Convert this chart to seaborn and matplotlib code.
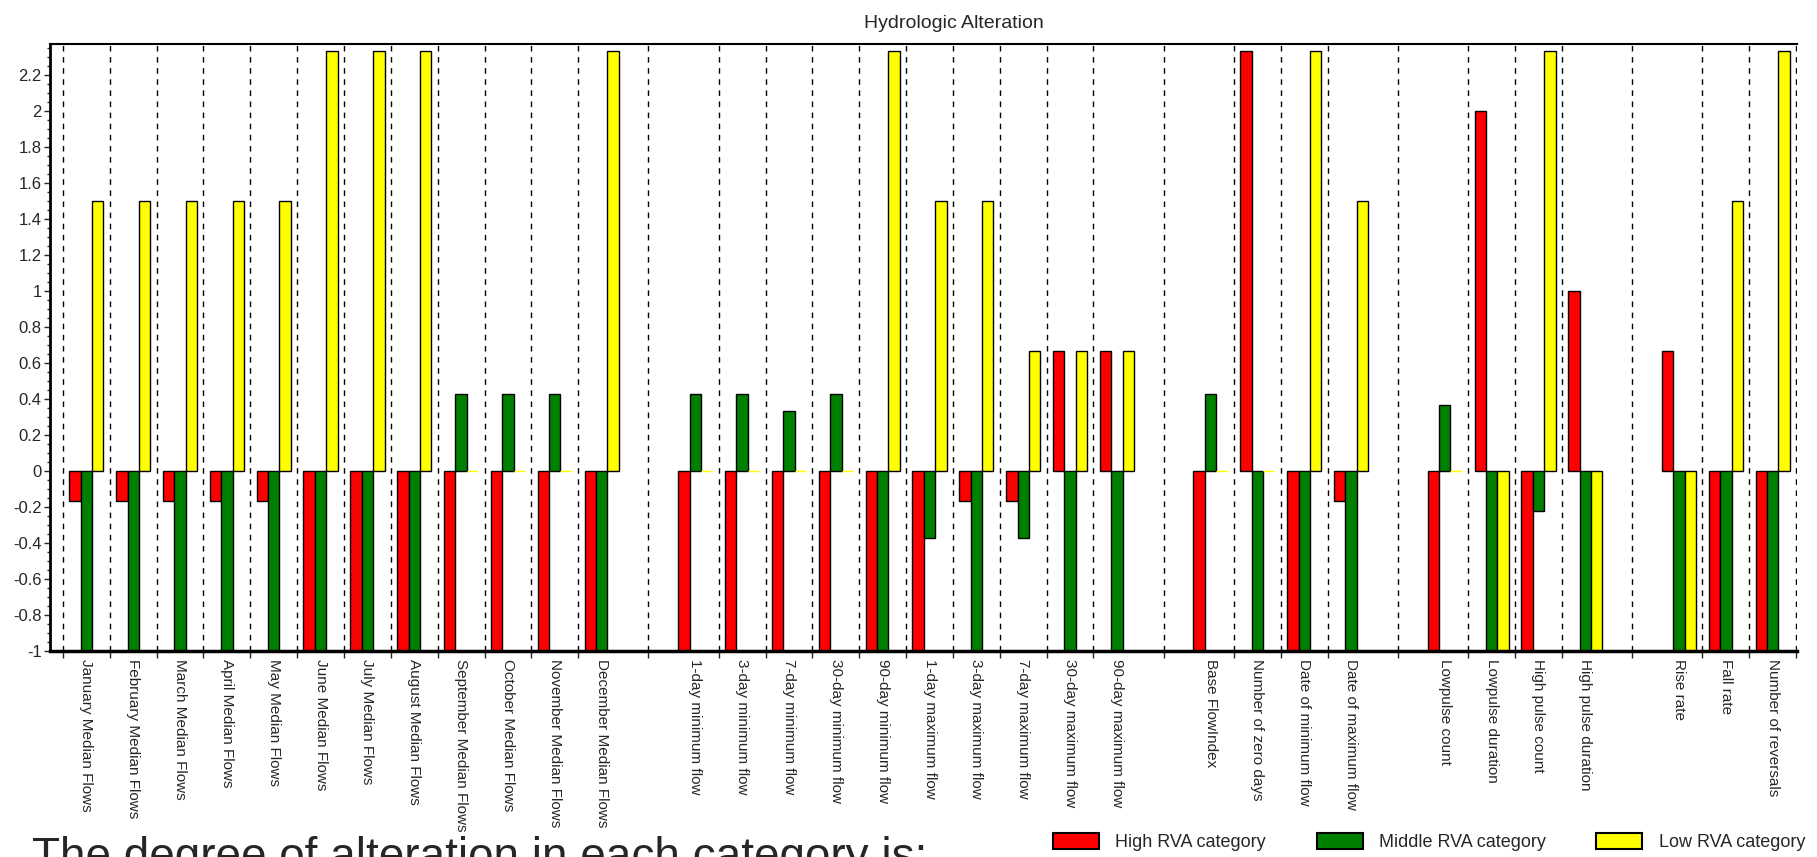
import numpy as np
import pandas as pd
import matplotlib
matplotlib.use("Agg")
import matplotlib.pyplot as plt
import seaborn as sns
from matplotlib.patches import Patch
from matplotlib.ticker import AutoMinorLocator, FixedLocator, FuncFormatter

# IHA indicators, in the order they appear (groups are separated by a blank slot)
categories = [
    "January Median Flows", "February Median Flows", "March Median Flows",
    "April Median Flows", "May Median Flows", "June Median Flows",
    "July Median Flows", "August Median Flows", "September Median Flows",
    "October Median Flows", "November Median Flows", "December Median Flows",
    "1-day minimum flow", "3-day minimum flow", "7-day minimum flow",
    "30-day minimum flow", "90-day minimum flow", "1-day maximum flow",
    "3-day maximum flow", "7-day maximum flow", "30-day maximum flow",
    "90-day maximum flow",
    "Base FlowIndex", "Number of zero days", "Date of minimum flow",
    "Date of maximum flow",
    "Lowpulse count", "Lowpulse duration", "High pulse count",
    "High pulse duration",
    "Rise rate", "Fall rate", "Number of reversals",
]
group_sizes = [12, 10, 4, 4, 3]

high = [-0.167, -0.167, -0.167, -0.167, -0.167, -1, -1, -1, -1, -1, -1, -1,
        -1, -1, -1, -1, -1, -1, -0.167, -0.167, 0.667, 0.667,
        -1, 2.333, -1, -0.167,
        -1, 2.0, -1, 1.0,
        0.667, -1, -1]
middle = [-1, -1, -1, -1, -1, -1, -1, -1, 0.429, 0.429, 0.429, -1,
          0.429, 0.429, 0.333, 0.429, -1, -0.375, -1, -0.375, -1, -1,
          0.429, -1, -1, -1,
          0.367, -1, -0.225, -1,
          -1, -1, -1]
low = [1.5, 1.5, 1.5, 1.5, 1.5, 2.333, 2.333, 2.333, 0, 0, 0, 2.333,
       0, 0, 0, 0, 2.333, 1.5, 1.5, 0.667, 0.667, 0.667,
       0, 0, 2.333, 1.5,
       0, -1, 2.333, -1,
       -1, 1.5, 2.333]

series_names = ["High RVA category", "Middle RVA category", "Low RVA category"]
colors = ["#ff0000", "#008000", "#ffff00"]

# slot order with blank slots between groups
order = []
start = 0
for g, size in enumerate(group_sizes):
    order += categories[start:start + size]
    start += size
    if g < len(group_sizes) - 1:
        order.append(f"_gap{g}")

df = pd.DataFrame({
    "indicator": categories * 3,
    "category": np.repeat(series_names, len(categories)),
    "value": high + middle + low,
})

sns.set_style("white")
plt.rcParams["font.family"] = ["Liberation Sans", "DejaVu Sans"]

fig = plt.figure(figsize=(18.17, 8.57), dpi=100)
ax = fig.add_axes([50 / 1817, 1 - 651 / 857, 1747 / 1817, 607 / 857])

sns.barplot(data=df, x="indicator", y="value", hue="category", order=order,
            hue_order=series_names, palette=colors, saturation=1, width=0.73, gap=0,
            edgecolor="black", linewidth=1, errorbar=None, legend=False, ax=ax)

# zero-height bars show as a thin line in their own colour
for p in ax.patches:
    if abs(p.get_height()) < 1e-9:
        p.set_edgecolor(p.get_facecolor())

# dashed separators
sep = []
for i, name in enumerate(order):
    if name.startswith("_gap"):
        sep.append(i)
    elif i == 0 or not order[i - 1].startswith("_gap"):
        sep.append(i - 0.5)
sep.append(len(order) - 0.5)
for s in sep:
    ax.axvline(s, color="black", linestyle=(0, (4, 4)), linewidth=1, zorder=0)

ax.set_xlim(-0.777, len(order) - 0.48)
ax.set_ylim(-1, 2.372)

label_pos = [i for i, n in enumerate(order) if not n.startswith("_gap")]
ax.set_xticks(label_pos)
ax.set_xticklabels([order[i] for i in label_pos], rotation=-90, fontsize=11,
                   va="top", ha="center")
ax.xaxis.set_minor_locator(FixedLocator(sep))
ax.tick_params(axis="x", which="major", length=0, pad=6)
ax.tick_params(axis="x", which="minor", bottom=True, length=5, width=1, direction="out")

ax.set_yticks(np.arange(-1, 2.21, 0.2))
ax.yaxis.set_major_formatter(FuncFormatter(lambda v, _: f"{round(v, 1) + 0.0:g}"))
ax.yaxis.set_minor_locator(AutoMinorLocator(4))
ax.tick_params(axis="y", which="major", left=True, length=4, width=1, labelsize=12, pad=2)
ax.tick_params(axis="y", which="minor", left=True, length=2, width=1)

ax.set_xlabel("")
ax.set_ylabel("")
ax.spines["right"].set_visible(False)
ax.spines["left"].set_linewidth(2)
ax.spines["bottom"].set_linewidth(2.5)
ax.spines["top"].set_linewidth(1.5)
for side in ["left", "bottom", "top"]:
    ax.spines[side].set_color("black")

fig.text(0.525, 1 - 23 / 857, "Hydrologic Alteration", ha="center", va="center", fontsize=14)

handles = [Patch(facecolor=c, edgecolor="black", linewidth=1.5) for c in colors]
fig.legend(handles, series_names, loc="center right", bbox_to_anchor=(1805 / 1817, 1 - 842 / 857),
           ncol=3, frameon=False, fontsize=13, handlelength=2.55, handleheight=1.0,
           handletextpad=0.9, columnspacing=2.8, borderpad=0, borderaxespad=0)

# the reference shows this sentence running off the bottom edge
fig.text(32 / 1817, (857 - 870) / 857, "The degree of alteration in each category is:",
         ha="left", va="baseline", fontsize=33)

fig.savefig("out.png", dpi=100)
